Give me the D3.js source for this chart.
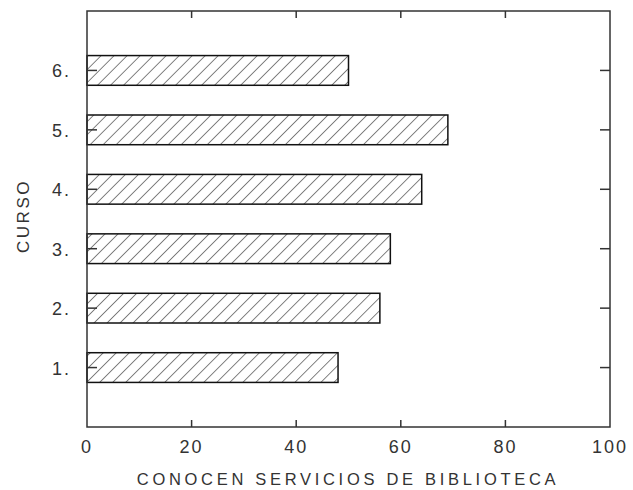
<!DOCTYPE html>
<html><head><meta charset="utf-8">
<script src="https://cdn.jsdelivr.net/npm/d3@7"></script>
<style>body{margin:0;background:#fff;} text{font-family:"Liberation Sans",Arial,sans-serif;fill:#333;}</style>
</head><body>
<svg id="c" width="633" height="490"></svg>
<script>
const categories = ["1.", "2.", "3.", "4.", "5.", "6."];
const values = [48, 56, 58, 64, 69, 50];
const xTicks = [0, 20, 40, 60, 80, 100];
const xTitle = "CONOCEN SERVICIOS DE BIBLIOTECA";
const yTitle = "CURSO";

const svg = d3.select("#c");
const L = 87, R = 610, T = 11, B = 427;
const x = d3.scaleLinear().domain([0, 100]).range([L, R]);
const y = d3.scaleLinear().domain([0, 7]).range([B, T]);
const pos = categories.map((c, i) => i + 1);

const defs = svg.append("defs");
const pat = defs.append("pattern").attr("id", "hatch").attr("patternUnits", "userSpaceOnUse")
  .attr("width", 9.2).attr("height", 9.2).attr("patternTransform", "rotate(45)");
pat.append("rect").attr("width", 9.2).attr("height", 9.2).attr("fill", "#fff");
pat.append("line").attr("x1", 0).attr("y1", 0).attr("x2", 0).attr("y2", 9.2)
  .attr("stroke", "#333").attr("stroke-width", 1.2);

const bh = y(0) - y(0.5);
svg.selectAll("rect.bar").data(values).join("rect").attr("class", "bar")
  .attr("x", x(0)).attr("y", (d, i) => y(pos[i]) - bh / 2)
  .attr("width", d => x(d) - x(0)).attr("height", bh)
  .attr("fill", "url(#hatch)").attr("stroke", "#111").attr("stroke-width", 1.5);

// axes with inward ticks
const ax = svg.append("g").attr("stroke", "#333").attr("stroke-width", 1.5);
const inner = xTicks.filter(t => t > 0 && t < 100);
inner.forEach(t => {
  ax.append("line").attr("x1", x(t)).attr("x2", x(t)).attr("y1", B).attr("y2", B - 7);
  ax.append("line").attr("x1", x(t)).attr("x2", x(t)).attr("y1", T).attr("y2", T + 7);
});
pos.forEach(p => {
  ax.append("line").attr("x1", L).attr("x2", L + 10).attr("y1", y(p)).attr("y2", y(p));
  ax.append("line").attr("x1", R).attr("x2", R - 10).attr("y1", y(p)).attr("y2", y(p));
});
ax.append("rect").attr("x", L).attr("y", T).attr("width", R - L).attr("height", B - T).attr("fill", "none");

svg.selectAll("text.xt").data(xTicks).join("text").attr("class", "xt")
  .attr("x", d => x(d)).attr("y", 453).attr("text-anchor", "middle")
  .attr("font-size", 18).attr("letter-spacing", 2).text(d => d);
svg.selectAll("text.yt").data(categories).join("text").attr("class", "yt")
  .attr("x", 71).attr("y", (d, i) => y(pos[i]) + 7).attr("text-anchor", "end")
  .attr("font-size", 18).attr("letter-spacing", 2).text(d => d);

svg.append("text").attr("x", 348).attr("y", 485).attr("text-anchor", "middle")
  .attr("font-size", 16.5).attr("letter-spacing", 3.7).text(xTitle);
svg.append("text").attr("transform", "translate(29,216) rotate(-90)").attr("text-anchor", "middle")
  .attr("font-size", 17).attr("letter-spacing", 2.5).text(yTitle);
</script>
</body></html>
